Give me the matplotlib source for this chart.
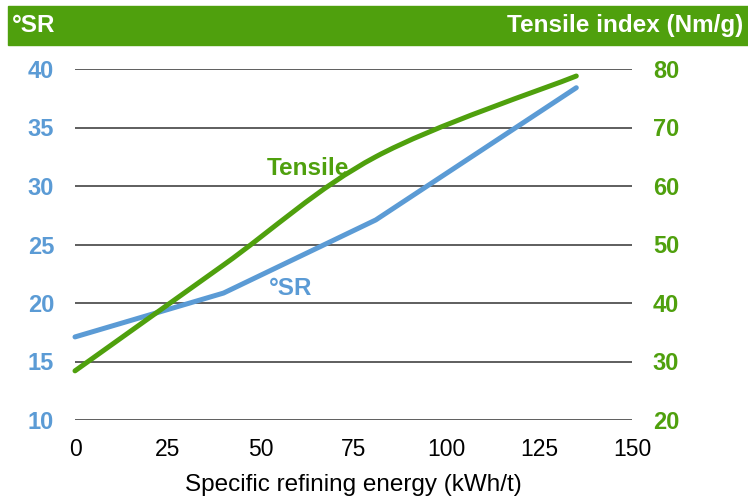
import numpy as np
import matplotlib
matplotlib.use("Agg")
import matplotlib.pyplot as plt
from matplotlib.path import Path
from matplotlib.patches import PathPatch, Rectangle

plt.rcParams['font.family'] = ['Liberation Sans', 'DejaVu Sans']

# data
energy = [0, 40, 81, 135]
sr = [17.1, 20.85, 27.1, 38.4]
tensile = [28.4, 46.5, 65.0, 78.8]

x_ticks = [0, 25, 50, 75, 100, 125, 150]
sr_ticks = [10, 15, 20, 25, 30, 35, 40]
tensile_ticks = [20, 30, 40, 50, 60, 70, 80]

BLUE = '#5B9BD5'
GREEN = '#4FA00D'


def smooth_path(xs, ys):
    # Excel-like smoothed line: cubic bezier through points
    pts = np.column_stack([xs, ys]).astype(float)
    n = len(pts)
    verts = [pts[0]]
    codes = [Path.MOVETO]
    for i in range(n - 1):
        p0 = pts[max(i - 1, 0)]
        p1 = pts[i]
        p2 = pts[i + 1]
        p3 = pts[min(i + 2, n - 1)]
        c1 = p1 + (p2 - p0) / 6.0
        c2 = p2 - (p3 - p1) / 6.0
        verts += [c1, c2, p2]
        codes += [Path.CURVE4] * 3
    return Path(verts, codes)


fig = plt.figure(figsize=(7.48, 4.97), dpi=100)
ax = fig.add_axes([75 / 748, 1 - 420 / 497, 557 / 748, 351 / 497])
ax2 = ax.twinx()

# header bar
fig.patches.append(Rectangle((8 / 748, 1 - 45 / 497), 1, 39 / 497,
                             transform=fig.transFigure, color=GREEN, zorder=0))
fig.text(12 / 748, 1 - 25.5 / 497, '°SR', color='white', fontsize=17.5,
         fontweight='bold', va='center', ha='left')
fig.text(743 / 748, 1 - 25.5 / 497, 'Tensile index (Nm/g)', color='white',
         fontsize=17.5, fontweight='bold', va='center', ha='right')

ax.set_xlim(0, 150)
ax.set_ylim(10, 40)
ax2.set_ylim(20, 80)
ax.set_xticks(x_ticks)
ax.set_yticks(sr_ticks)
ax2.set_yticks(tensile_ticks)

for a in (ax, ax2):
    for s in a.spines.values():
        s.set_visible(False)

ax.yaxis.grid(True, color='#333333', linewidth=1.1)
ax.set_axisbelow(True)
ax.tick_params(axis='x', length=0, pad=13, labelsize=16.5, labelcolor='black')
ax.tick_params(axis='y', length=0, pad=15, labelsize=17, labelcolor=BLUE)
ax2.tick_params(axis='y', length=0, pad=15, labelsize=17, labelcolor=GREEN)
for lab in ax.get_yticklabels():
    lab.set_fontweight('bold')
for lab in ax2.get_yticklabels():
    lab.set_fontweight('bold')

ax.set_xlabel('Specific refining energy (kWh/t)', fontsize=17.5, labelpad=9)

ax.plot(energy, sr, color=BLUE, linewidth=3.6, solid_capstyle='round',
        solid_joinstyle='round', clip_on=False)
ax2.add_patch(PathPatch(smooth_path(energy, tensile), facecolor='none',
                        edgecolor=GREEN, linewidth=3.6, capstyle='round',
                        clip_on=False))

ax.text(62.8, 31.5, 'Tensile', color=GREEN, fontsize=17.5, fontweight='bold',
        ha='center', va='center')
ax.text(58, 21.2, '°SR', color=BLUE, fontsize=17.5, fontweight='bold',
        ha='center', va='center')

fig.savefig('out.png', dpi=100)
